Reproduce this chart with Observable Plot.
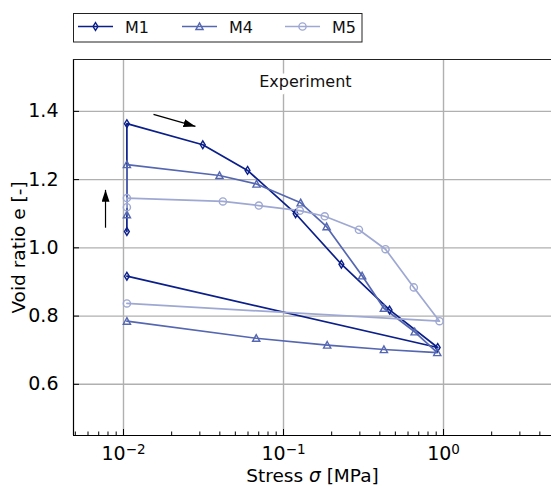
<!DOCTYPE html>
<html><head><meta charset="utf-8">
<script src="https://cdn.jsdelivr.net/npm/d3@7"></script>
<script src="https://cdn.jsdelivr.net/npm/@observablehq/plot@0.6"></script>
<style>
body{margin:0;background:#fff;font-family:"DejaVu Sans",sans-serif;}
#wrap{position:relative;width:551px;height:486px;overflow:hidden;}
#legend{position:absolute;left:0;top:0;}
#chart{position:absolute;left:0;top:50px;}
</style></head><body>
<div id="wrap"><svg id="legend" width="551" height="50"></svg><div id="chart"></div></div>
<script>
// ---- data ----
const series = ["M1", "M4", "M5"];
const colors = ["#0b1f8a", "#5567b1", "#9ea8d3"];
const m1Stress = [0.0105, 0.0105, 0.0313, 0.0596, 0.119, 0.23, 0.46, 0.92, 0.0105];
const m1Void   = [1.048, 1.364, 1.302, 1.227, 1.100, 0.952, 0.818, 0.708, 0.917];
const m4Stress = [0.0105, 0.0105, 0.0398, 0.0678, 0.128, 0.186, 0.31, 0.424, 0.66, 0.914, 0.424, 0.1875, 0.0675, 0.0105];
const m4Void   = [1.097, 1.244, 1.212, 1.187, 1.132, 1.062, 0.918, 0.823, 0.754, 0.693, 0.702, 0.715, 0.735, 0.785];
const m5Stress = [0.0105, 0.0105, 0.0418, 0.0701, 0.1264, 0.181, 0.296, 0.434, 0.652, 0.944, 0.0105];
const m5Void   = [1.119, 1.146, 1.136, 1.124, 1.109, 1.0925, 1.053, 0.996, 0.884, 0.785, 0.837];
const xMajorTicks = [0.01, 0.1, 1];
const xTickBase = ["10", "10", "10"];
const xTickExp = ["\u22122", "\u22121", "0"];
const yTicks = [0.6, 0.8, 1.0, 1.2, 1.4];
const xDomain = [0.00487, 4.73];
const yDomain = [0.45, 1.552];
const arrowX1 = [0.0154, 0.00772];
const arrowY1 = [1.391, 1.059];
const arrowX2 = [0.02818, 0.00772];
const arrowY2 = [1.356, 1.170];
const noteText = ["Experiment"];
const noteX = [0.137];
const noteY = [1.487];
const xLabel = "Stress σ [MPa]";
const yLabel = "Void ratio e [-]";

// ---- build tables ----
const raw = [[m1Stress, m1Void], [m4Stress, m4Void], [m5Stress, m5Void]];
const rows = [];
raw.forEach(([s, v], i) => s.forEach((x, j) => rows.push({series: series[i], stress: x, e: v[j]})));
const minorTicks = [];
for (let p = -3; p <= 0; p++) for (let m = 2; m <= 9; m++) {
  const v = m * Math.pow(10, p);
  if (v > xDomain[0] && v < xDomain[1]) minorTicks.push(v);
}
const arrows = arrowX1.map((x, i) => ({x1: x, y1: arrowY1[i], x2: arrowX2[i], y2: arrowY2[i]}));
const notes = noteText.map((t, i) => ({text: t, x: noteX[i], y: noteY[i]}));
const tickIndex = d => {
  let best = 0;
  xMajorTicks.forEach((t, i) => { if (Math.abs(Math.log10(t) - Math.log10(d)) < Math.abs(Math.log10(xMajorTicks[best]) - Math.log10(d))) best = i; });
  return best;
};
const xTickFmt = d => { const i = tickIndex(d); return xTickBase[i] + "^" + xTickExp[i]; };

// ---- symbols ----
const thinDiamond = {draw(ctx, size) {
  const r = Math.sqrt(size / Math.PI), w = r * 0.62;
  ctx.moveTo(0, -r); ctx.lineTo(w, 0); ctx.lineTo(0, r); ctx.lineTo(-w, 0); ctx.closePath();
}};
const triUp = {draw(ctx, size) {
  const r = Math.sqrt(size / Math.PI);
  ctx.moveTo(0, -r); ctx.lineTo(r, r * 0.85); ctx.lineTo(-r, r * 0.85); ctx.closePath();
}};
const circ = {draw(ctx, size) {
  const r = Math.sqrt(size / Math.PI);
  ctx.moveTo(r, 0); ctx.arc(0, 0, r, 0, 2 * Math.PI); ctx.closePath();
}};
const symbols = [thinDiamond, triUp, circ];
const symR = [3.9, 3.6, 3.6];

const grid = "#b0b0b0";
const plot = Plot.plot({
  width: 551, height: 436,
  marginLeft: 73, marginRight: 0, marginTop: 9, marginBottom: 51,
  style: {fontFamily: "DejaVu Sans, sans-serif", fontSize: "19px", color: "black", background: "white"},
  x: {type: "log", domain: xDomain},
  y: {domain: yDomain},
  color: {domain: series, range: colors},
  marks: [
    Plot.ruleX(xMajorTicks, {stroke: grid, strokeWidth: 1.4}),
    Plot.ruleY(yTicks, {stroke: grid, strokeWidth: 1.4}),
    Plot.text(notes, {x: "x", y: "y", text: "text", fontSize: 16, fill: "#111", stroke: "white", strokeWidth: 9}),
    Plot.link(arrows, {x1: "x1", y1: "y1", x2: "x2", y2: "y2", stroke: "black", strokeWidth: 1.2}),
    Plot.line(rows, {x: "stress", y: "e", z: "series", stroke: "series", strokeWidth: 1.7}),
    ...series.map((s, i) => Plot.dot(rows.filter(d => d.series === s), {
      x: "stress", y: "e", stroke: colors[i], fill: "none", strokeWidth: 1.4, symbol: symbols[i], r: symR[i]
    })),
    Plot.ruleX([xDomain[0]], {stroke: "black", strokeWidth: 1.2}),
    Plot.ruleY([yDomain[0]], {stroke: "black", strokeWidth: 1.2}),
    Plot.ruleY([yDomain[1]], {stroke: "#222", strokeWidth: 1.2}),
    Plot.axisX(minorTicks, {tickSize: -3.5, tickFormat: () => "", label: null}),
    Plot.axisX(xMajorTicks, {tickSize: -6, tickPadding: 17, tickFormat: xTickFmt, fontSize: 19,
      label: xLabel, labelAnchor: "center", labelOffset: 46, labelArrow: "none"}),
    Plot.axisY(yTicks, {tickSize: -6, tickPadding: 21, tickFormat: d3.format(".1f"), fontSize: 19,
      label: yLabel, labelAnchor: "center", labelOffset: 62, labelArrow: "none"})
  ]
});
document.getElementById("chart").appendChild(plot);

const svg = d3.select(plot);
// superscript tick labels
svg.selectAll('g[aria-label="x-axis tick label"] text').each(function() {
  const t = d3.select(this);
  const s = t.text();
  if (s.includes("^")) {
    const [b, e] = s.split("^");
    t.text("");
    t.append("tspan").text(b);
    t.append("tspan").attr("dy", "-0.42em").attr("font-size", "13.5px").text(e);
  }
});
// filled arrow heads
const defs = svg.insert("defs", ":first-child");
defs.append("marker").attr("id", "ahead").attr("viewBox", "0 0 12 8").attr("refX", 12).attr("refY", 4)
  .attr("markerWidth", 12).attr("markerHeight", 8).attr("markerUnits", "userSpaceOnUse").attr("orient", "auto")
  .append("path").attr("d", "M0,0L12,4L0,8Z").attr("fill", "black");
svg.selectAll('g[aria-label="link"] path').attr("marker-end", "url(#ahead)");
// italic sigma in x label
svg.selectAll('g[aria-label="x-axis label"] text').each(function() {
  const t = d3.select(this);
  if (t.text().includes("σ")) {
    t.text("");
    t.append("tspan").text("Stress ");
    t.append("tspan").attr("font-style", "italic").text("σ");
    t.append("tspan").text(" [MPa]");
  }
});
svg.selectAll('g[aria-label="x-axis label"], g[aria-label="y-axis label"]').attr("font-size", "18.5px");

// legend
const lg = d3.select("#legend");
lg.append("rect").attr("x", 73.5).attr("y", 13.5).attr("width", 288.5).attr("height", 28.5)
  .attr("fill", "white").attr("stroke", "#222").attr("stroke-width", 1);
const lx = [78, 182, 285];
series.forEach((s, i) => {
  const g = lg.append("g");
  g.append("line").attr("x1", lx[i]).attr("x2", lx[i] + 35).attr("y1", 26.5).attr("y2", 26.5)
    .attr("stroke", colors[i]).attr("stroke-width", 1.7);
  g.append("path").attr("transform", `translate(${lx[i] + 17.5},26.5)`)
    .attr("d", d3.symbol().type(symbols[i]).size(Math.PI * symR[i] * symR[i])())
    .attr("fill", "none").attr("stroke", colors[i]).attr("stroke-width", 1.4);
  g.append("text").attr("x", lx[i] + 47).attr("y", 32.5).attr("font-size", 16)
    .attr("font-family", "DejaVu Sans, sans-serif").attr("fill", "#111").text(s);
});
</script>
</body></html>
